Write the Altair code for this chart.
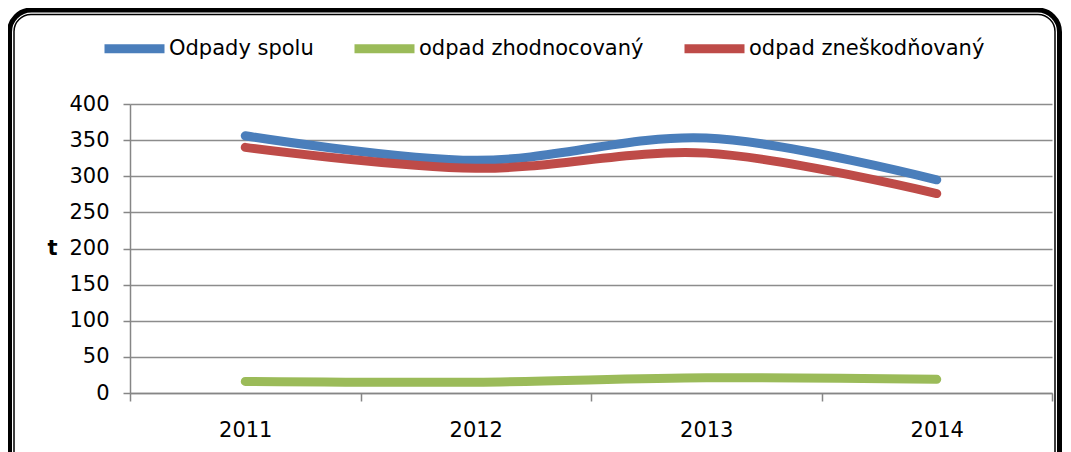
import altair as alt
import pandas as pd

years = ["2011", "2012", "2013", "2014"]
series = ["Odpady spolu", "odpad zhodnocovaný", "odpad zneškodňovaný"]
spolu = [356, 322, 353, 295]
zhodnocovany = [16, 15, 21, 19]
zneskodnovany = [340, 311, 332, 276]
colors = ["#4a7ebb", "#9bbb59", "#be4b48"]
y_ticks = [0, 50, 100, 150, 200, 250, 300, 350, 400]

rows = []
for i, (name, vals) in enumerate(zip(series, [spolu, zhodnocovany, zneskodnovany])):
    for yr, v in zip(years, vals):
        rows.append({"rok": yr, "séria": name, "t": v, "poradie": i})
df = pd.DataFrame(rows)

FONT = "DejaVu Sans"
FS = 21

lines = alt.Chart(df).mark_line(
    strokeWidth=9, strokeCap="round", strokeJoin="round", interpolate="catmull-rom"
).encode(
    x=alt.X("rok:N", bandPosition=0.5,
            scale=alt.Scale(type="band", paddingInner=0, paddingOuter=0),
            axis=alt.Axis(title=None, tickBand="extent", grid=False, labelAngle=0,
                          domainColor="#868686", domainWidth=1.5, tickColor="#868686",
                          tickWidth=1.5, tickSize=8, labelPadding=18,
                          labelFont=FONT, labelFontSize=FS, labelColor="black")),
    y=alt.Y("t:Q", scale=alt.Scale(domain=[0, 400], nice=False),
            axis=alt.Axis(title="t", values=y_ticks, titleAngle=0, titleAlign="center",
                          titleBaseline="middle", titleX=-78, titleY=144,
                          titleFont=FONT, titleFontSize=FS, titleFontWeight="bold",
                          titleColor="black",
                          grid=True, gridColor="#8c8c8c", gridWidth=1.5,
                          domainColor="#868686", domainWidth=1.5, tickColor="#868686",
                          tickWidth=1.5, tickSize=7, labelPadding=14,
                          labelFont=FONT, labelFontSize=FS, labelColor="black")),
    color=alt.Color("séria:N", sort=series,
                    scale=alt.Scale(domain=series, range=colors),
                    legend=alt.Legend(title=None, orient="none", direction="horizontal",
                                      legendX=-30, legendY=-90,
                                      symbolType="stroke", symbolStrokeWidth=9,
                                      symbolSize=3600, labelFont=FONT, labelFontSize=FS,
                                      labelColor="black", labelLimit=400, labelOffset=0,
                                      columnPadding=22)),
    order=alt.Order("poradie:Q"),
)

frame_data = pd.DataFrame({"ram": [0]})
outer = alt.Chart(frame_data).mark_rect(
    fill="transparent", stroke="black", strokeWidth=5, cornerRadius=22
).encode(x=alt.value(-120.5), x2=alt.value(929.5), y=alt.value(-94), y2=alt.value(380))
inner = alt.Chart(frame_data).mark_rect(
    fill="transparent", stroke="black", strokeWidth=1.5, cornerRadius=17
).encode(x=alt.value(-116), x2=alt.value(925), y=alt.value(-89.5), y2=alt.value(376))

chart = alt.layer(outer, inner, lines).properties(
    width=922, height=289,
    autosize=alt.AutoSizeParams(type="none"),
    padding={"left": 122, "top": 96, "right": 11, "bottom": 59},
    background="white",
).configure_view(strokeWidth=0)

chart.save("out.html", embed_options={"renderer": "svg", "actions": False})
